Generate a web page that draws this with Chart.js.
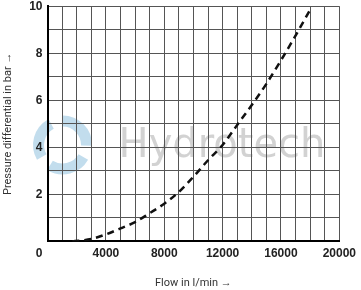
<!DOCTYPE html>
<html>
<head>
<meta charset="utf-8">
<script src="https://cdn.jsdelivr.net/npm/chart.js@4.4.1/dist/chart.umd.min.js"></script>
<style>
  html, body { margin: 0; padding: 0; background: #fff; overflow: hidden; }
  #wrap { width: 361px; height: 296px; margin-top: -6px; }
</style>
</head>
<body>
<div id="wrap"><canvas id="chart"></canvas></div>
<script>
// flow in l/min and pressure differential in bar
const flow = [1700, 3000, 4000, 5000, 6000, 7000, 8000, 9000, 10000, 11000, 12000, 13000, 14000, 15000, 16000, 17000, 18000];
const pressure = [0, 0.1, 0.3, 0.55, 0.82, 1.2, 1.6, 2.1, 2.75, 3.45, 4.1, 4.95, 5.8, 6.7, 7.7, 8.75, 9.85];
const xTickLabels = [4000, 8000, 12000, 16000, 20000];
const yTickLabels = [2, 4, 6, 8, 10];

// faint watermark behind the grid, and the shared "0" at the corner
const extras = {
  id: 'extras',
  beforeDraw(chart) {
    const { ctx } = chart;
    const x = chart.scales.x, y = chart.scales.y;
    ctx.save();
    // swirl logo
    const cx = x.left + 15, cy = y.getPixelForValue(4.1);
    ctx.strokeStyle = 'rgba(120,180,215,0.45)';
    ctx.lineWidth = 11;
    for (let k = 0; k < 3; k++) {
      const a = -Math.PI / 2 + k * (2 * Math.PI / 3);
      ctx.beginPath();
      ctx.arc(cx, cy, 24, a, a + 1.6);
      ctx.stroke();
    }
    // text
    ctx.fillStyle = 'rgba(165,165,165,0.5)';
    ctx.font = '40px "DejaVu Sans", sans-serif';
    ctx.textAlign = 'left';
    ctx.textBaseline = 'alphabetic';
    ctx.fillText('Hydrotech', x.left + 71, y.getPixelForValue(3.6));
    ctx.restore();
  },
  afterDraw(chart) {
    const { ctx } = chart;
    const x = chart.scales.x, y = chart.scales.y;
    ctx.save();
    ctx.fillStyle = '#222';
    ctx.font = 'bold 12px "Liberation Sans", sans-serif';
    ctx.textAlign = 'right';
    ctx.textBaseline = 'middle';
    ctx.fillText('0', x.getPixelForValue(0) - 5, y.getPixelForValue(0) + 12);
    ctx.restore();
  }
};

new Chart(document.getElementById('chart'), {
  type: 'scatter',
  data: {
    datasets: [{
      data: flow.map((f, i) => ({ x: f, y: pressure[i] })),
      showLine: true,
      borderColor: '#111',
      borderWidth: 2.5,
      borderDash: [7, 5],
      cubicInterpolationMode: 'monotone',
      pointRadius: 0
    }]
  },
  options: {
    responsive: true,
    maintainAspectRatio: false,
    animation: false,
    layout: { padding: { left: 2, right: 0, top: 0, bottom: 0 } },
    plugins: { legend: { display: false }, tooltip: { enabled: false } },
    scales: {
      x: {
        type: 'linear',
        min: 0,
        max: 20000,
        ticks: {
          stepSize: 1000,
          autoSkip: false,
          maxRotation: 0,
          color: '#222',
          padding: 5,
          font: { family: 'Liberation Sans', size: 12, weight: 'bold' },
          callback: v => xTickLabels.includes(v) ? String(v) : ''
        },
        grid: { color: '#555', lineWidth: 1, drawTicks: false },
        border: { color: '#000', width: 2 },
        title: {
          display: true,
          text: 'Flow in l/min \u2192',
          color: '#333',
          font: { family: 'Roboto', size: 11 },
          padding: { top: 11, bottom: 0 }
        }
      },
      y: {
        min: 0,
        max: 10,
        ticks: {
          stepSize: 1,
          autoSkip: false,
          color: '#222',
          padding: 5,
          font: { family: 'Liberation Sans', size: 12, weight: 'bold' },
          callback: v => yTickLabels.includes(v) ? String(v) : ''
        },
        grid: { color: '#555', lineWidth: 1, drawTicks: false },
        border: { color: '#000', width: 2 },
        title: {
          display: true,
          text: 'Pressure differential in bar \u2192',
          color: '#333',
          font: { family: 'Roboto', size: 11 },
          padding: { top: 0, bottom: 9 }
        }
      }
    }
  },
  plugins: [extras]
});
</script>
</body>
</html>
